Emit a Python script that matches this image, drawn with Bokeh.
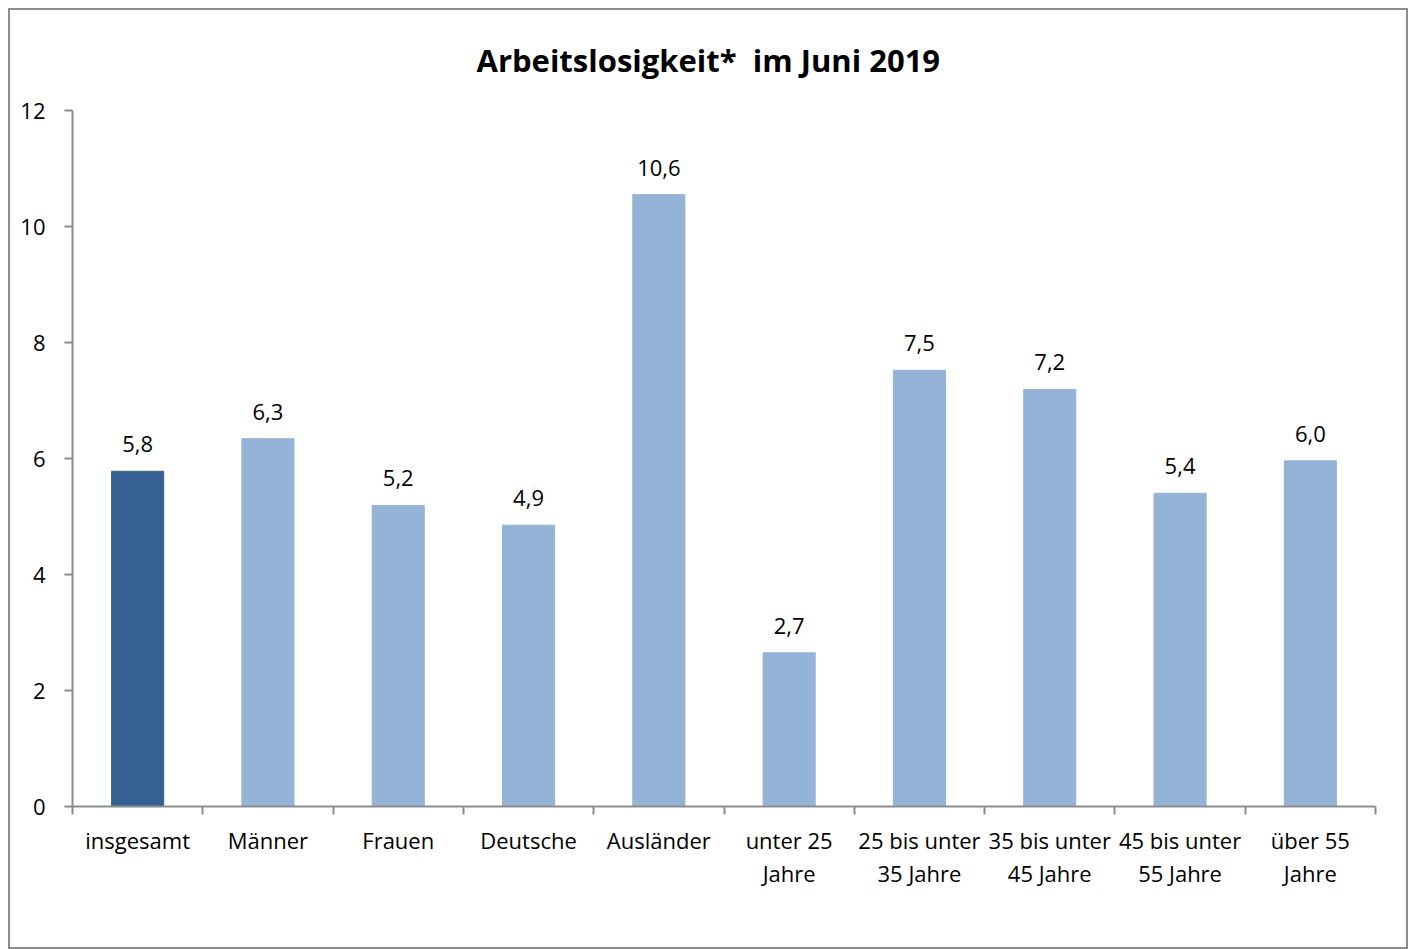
from bokeh.plotting import figure
from bokeh.models import Range1d, FixedTicker, ColumnDataSource, LinearAxis, Title
from bokeh.core.properties import value
from bokeh.embed import file_html
from bokeh.resources import INLINE

title_text = "Arbeitslosigkeit*\u00a0\u00a0im Juni 2019"
categories = ["insgesamt", "Männer", "Frauen", "Deutsche", "Ausländer",
              "unter 25\nJahre", "25 bis unter\n35 Jahre", "35 bis unter\n45 Jahre",
              "45 bis unter\n55 Jahre", "über 55\nJahre"]
values = [5.78, 6.34, 5.19, 4.85, 10.55, 2.65, 7.52, 7.19, 5.40, 5.96]
labels = ["5,8", "6,3", "5,2", "4,9", "10,6", "2,7", "7,5", "7,2", "5,4", "6,0"]
colors = ["#376092"] + ["#95B3D7"] * 9
y_ticks = [0, 2, 4, 6, 8, 10, 12]

FONT = "Open Sans"

xs = [i + 0.5 for i in range(len(categories))]
src = ColumnDataSource(dict(x=xs, top=values, lab=labels, color=colors))

p = figure(width=1400, height=941, x_range=Range1d(0, len(categories)), y_range=Range1d(0, 12),
           output_backend="svg", toolbar_location=None,
           min_border_left=62, min_border_right=35, min_border_top=100, min_border_bottom=145,
           x_axis_type=None, y_axis_type=None)
p.styles = {"border": "2px solid #8c8c8c", "margin-left": "8px", "margin-top": "8px"}
p.outline_line_color = None
p.background_fill_color = "white"
p.border_fill_color = "white"

p.title = Title(text=title_text, align="left", vertical_align="top",
                text_font=FONT, text_font_size="31px", text_font_style="bold",
                text_color="black", offset=404, standoff=55)

p.vbar(x="x", top="top", width=0.4, color="color", source=src)
p.text(x="x", y="top", text="lab", source=src, text_align="center", text_baseline="bottom",
       y_offset=-19, text_font=value(FONT), text_font_size="22px", text_color="black")

yax = LinearAxis(ticker=FixedTicker(ticks=y_ticks))
yax.axis_line_color = "#8c8c8c"
yax.axis_line_width = 2
yax.major_tick_line_color = "#8c8c8c"
yax.major_tick_line_width = 2
yax.major_tick_out = 8
yax.major_tick_in = 0
yax.minor_tick_line_color = None
yax.major_label_text_font = FONT
yax.major_label_text_font_size = "22px"
yax.major_label_text_color = "black"
yax.major_label_standoff = 19
p.add_layout(yax, "left")

xax = LinearAxis(ticker=FixedTicker(ticks=xs, minor_ticks=list(range(len(categories) + 1))))
xax.major_label_overrides = {x: c for x, c in zip(xs, categories)}
xax.axis_line_color = "#8c8c8c"
xax.axis_line_width = 2
xax.major_tick_line_color = None
xax.major_tick_out = 0
xax.major_tick_in = 0
xax.minor_tick_line_color = "#8c8c8c"
xax.minor_tick_line_width = 2
xax.minor_tick_out = 8
xax.minor_tick_in = 0
xax.major_label_text_font = FONT
xax.major_label_text_font_size = "22px"
xax.major_label_text_color = "black"
xax.major_label_text_line_height = 1.1
xax.major_label_standoff = 10
p.add_layout(xax, "below")

p.xgrid.visible = False
p.ygrid.grid_line_color = "#8c8c8c"
p.ygrid.grid_line_width = 2
p.ygrid.ticker = FixedTicker(ticks=y_ticks)

open("out.html", "w").write(file_html(p, INLINE))
